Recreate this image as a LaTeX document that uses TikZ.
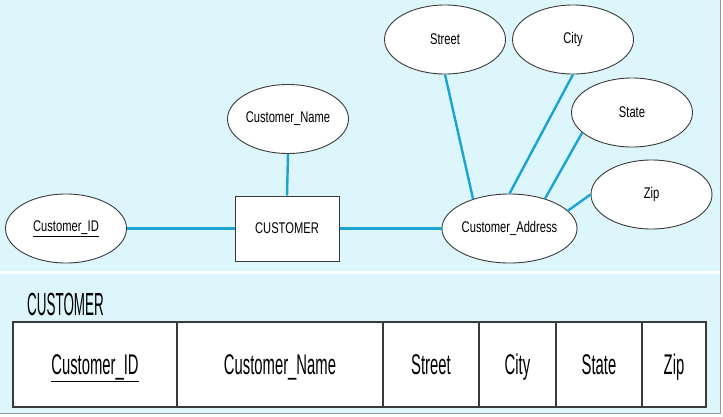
\documentclass[tikz,border=0pt]{standalone}
\usepackage{fontspec}
\setmainfont{Liberation Sans}
\newfontfamily\erfont[FakeStretch=0.72]{Liberation Sans}
\newfontfamily\tabfont[FakeStretch=0.52]{Liberation Sans}
\newfontfamily\lblfont[FakeStretch=0.42]{Liberation Sans}
\usetikzlibrary{shapes.geometric}
\definecolor{bgcyan}{HTML}{DDF6FC}
\definecolor{linkblue}{HTML}{1BA3D4}
\definecolor{edgegray}{HTML}{3A3A3A}
\definecolor{framegray}{HTML}{8A9A9E}
\begin{document}
\begin{tikzpicture}[x=1pt,y=-1pt,
  attr/.style={ellipse, draw=edgegray, line width=0.9pt, fill=white,
    minimum width=121pt, minimum height=69pt, inner sep=0pt,
    font=\erfont\fontsize{15.5}{15.5}\selectfont},
  entity/.style={rectangle, draw=edgegray, line width=1pt, fill=white,
    minimum width=104pt, minimum height=65pt, inner sep=0pt,
    font=\erfont\fontsize{15.5}{15.5}\selectfont},
  link/.style={draw=linkblue, line width=2.4pt},
  cell/.style={rectangle, draw=edgegray, line width=1.3pt, fill=white,
    minimum height=85pt, inner sep=0pt, text height=20pt, text depth=0pt,
    font=\tabfont\fontsize{28.5}{28.5}\selectfont},
  title/.style={inner sep=0pt, anchor=base west,
    font=\lblfont\fontsize{32}{32}\selectfont}]
\useasboundingbox (0,0) rectangle (723,416);
% backgrounds
\fill[white] (0,0) rectangle (723,416);
\fill[bgcyan] (0,0) rectangle (720,271);
\fill[bgcyan] (0,274) rectangle (720,413);
\draw[framegray, line width=1.2pt] (720.5,0) -- (720.5,413.5) -- (0,413.5);

% ER diagram nodes
\node[attr] (street) at (445,39.5) {Street};
\node[attr] (city) at (573,39.5) {City};
\node[attr] (state) at (632,112.5) {State};
\node[attr] (zip) at (651.5,194.5) {Zip};
\node[attr] (cname) at (288,119) {Customer\_Name};
\node[attr] (cid) at (66,228.5) {\underline{Customer\_ID}};
\node[entity] (cust) at (287,228.5) {CUSTOMER};
\node[attr] (caddr) at (509.5,228.5) {Customer\_Address};

% connectors
\draw[link] (cid.east) -- (cust.west);
\draw[link] (cust.east) -- (caddr.west);
\draw[link] (cname.south) -- (cust.north);
\draw[link] (street.south) -- (caddr.141.5);
\draw[link] (city.south) -- (caddr.north);
\draw[link] (state.-158) -- (caddr.40);
\draw[link] (zip.west) -- (caddr.17.6);

% relation table
\node[title] (ttl) at (27,315) {CUSTOMER};
\node[cell, minimum width=164pt] (t1) at (95,364.5) {\underline{Customer\_ID}};
\node[cell, minimum width=206pt] (t2) at (280,364.5) {Customer\_Name};
\node[cell, minimum width=96pt] (t3) at (431,364.5) {Street};
\node[cell, minimum width=77pt] (t4) at (517.5,364.5) {City};
\node[cell, minimum width=86pt] (t5) at (599,364.5) {State};
\node[cell, minimum width=64pt] (t6) at (674,364.5) {Zip};
\end{tikzpicture}
\end{document}
